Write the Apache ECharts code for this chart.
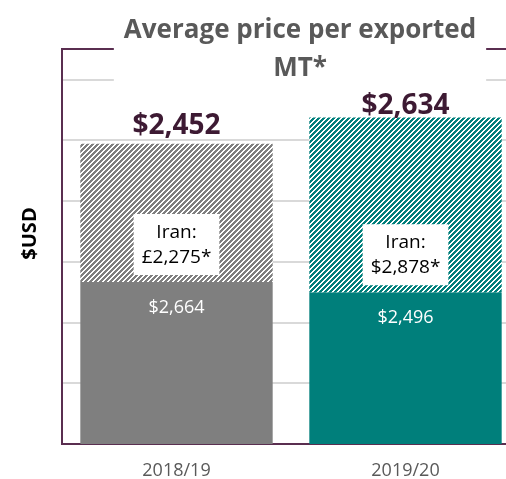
<!DOCTYPE html>
<html>
<head>
<meta charset="utf-8">
<script src="https://cdn.jsdelivr.net/npm/echarts@6/dist/echarts.min.js"></script>
<style>html,body{margin:0;padding:0;background:#fff}#c{width:506px;height:479px}</style>
</head>
<body>
<div id="c"></div>
<script>
// ---- data ----
const categories = ['2018/19', '2019/20'];
const solidValues = [2664, 2496];        // solid segment (bar height, USD)
const iranValues = [2275, 2878];         // hatched Iran segment (bar height)
const solidLabels = ['$2,664', '$2,496'];
const iranLabels = ['£2,275*', '$2,878*'];
const avgLabels = ['$2,452', '$2,634'];
const avgPlaceholder = [0, 0];
const yTicks = { min: 0, max: 6500, interval: 1000 };

// ---- styling ----
const FONT = 'Open Sans';
const PURPLE = '#5a2e50';
const solidColors = ['#7f7f7f', '#007f7b'];
const avgLabelDistance = [4, -3];

function makePattern(color) {
  const n = 5;
  const c = document.createElement('canvas');
  c.width = n; c.height = n;
  const ctx = c.getContext('2d');
  ctx.fillStyle = '#ffffff';
  ctx.fillRect(0, 0, n, n);
  ctx.fillStyle = color;
  for (let x = 0; x < n; x++) for (let y = 0; y < n; y++) {
    if ((x + y) % n < 3) ctx.fillRect(x, y, 1, 1);
  }
  return c;
}
const patterns = solidColors.map(makePattern);

const chart = echarts.init(document.getElementById('c'), null, { renderer: 'canvas' });
chart.setOption({
  animation: false,
  title: {
    text: 'Average price per exported\nMT*',
    left: 290,
    top: 12,
    textAlign: 'center',
    backgroundColor: '#ffffff',
    padding: [0, 10, 0, 10],
    textStyle: { fontFamily: FONT, fontWeight: 'bold', fontSize: 26, color: '#595959', lineHeight: 38, align: 'center' }
  },
  grid: { left: 62, width: 458, top: 49, bottom: 35, outerBoundsMode: 'none', containLabel: false, show: true, borderColor: PURPLE, borderWidth: 2, backgroundColor: 'transparent' },
  xAxis: {
    type: 'category',
    data: categories,
    axisLine: { lineStyle: { color: PURPLE, width: 2 } },
    axisTick: { show: false },
    axisLabel: { color: '#595959', fontFamily: FONT, fontSize: 18, margin: 18 }
  },
  yAxis: {
    type: 'value',
    min: yTicks.min, max: yTicks.max, interval: yTicks.interval,
    axisLabel: { show: false },
    axisTick: { show: false },
    axisLine: { show: true, lineStyle: { color: PURPLE, width: 2 } },
    splitLine: { show: true, showMaxLine: false, lineStyle: { color: '#d9d9d9', width: 2 } },
    name: '$USD',
    nameLocation: 'middle',
    nameGap: 22,
    nameTextStyle: { fontFamily: FONT, fontWeight: 'bold', fontSize: 20, color: '#000000', padding: [0, 0, 0, 26] }
  },
  series: [
    {
      type: 'bar', stack: 'a', data: solidValues,
      barWidth: '84%',
      itemStyle: { color: p => solidColors[p.dataIndex] },
      label: {
        show: true, position: 'insideTop', distance: 17,
        color: '#ffffff', fontFamily: FONT, fontSize: 18,
        formatter: p => solidLabels[p.dataIndex]
      }
    },
    {
      type: 'bar', stack: 'a', data: iranValues,
      itemStyle: { color: p => ({ image: patterns[p.dataIndex], repeat: 'repeat' }) },
      label: {
        show: true, position: 'insideBottom', distance: 7,
        backgroundColor: '#ffffff', padding: [6, 8, 5, 8],
        color: '#000000', fontFamily: FONT, fontSize: 19, lineHeight: 25, align: 'center',
        formatter: p => 'Iran:\n' + iranLabels[p.dataIndex]
      }
    },
    {
      type: 'bar', stack: 'a',
      data: avgPlaceholder.map((v, i) => ({ value: v, label: { distance: avgLabelDistance[i] } })),
      z: 10,
      itemStyle: { color: 'transparent' },
      label: {
        show: true, position: 'top',
        color: '#3d1a33', fontFamily: FONT, fontWeight: 'bold', fontSize: 28,
        formatter: p => avgLabels[p.dataIndex]
      }
    }
  ]
});
</script>
</body>
</html>
